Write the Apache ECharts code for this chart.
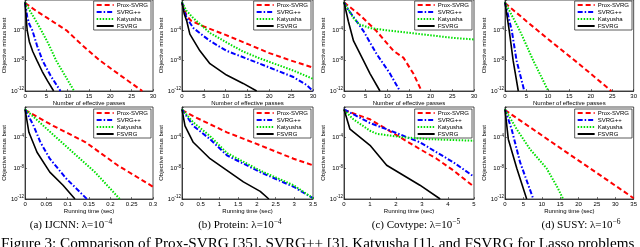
<!DOCTYPE html>
<html><head><meta charset="utf-8">
<script src="https://cdn.jsdelivr.net/npm/echarts@6/dist/echarts.min.js"></script>
<style>html,body{margin:0;padding:0;background:#fff;}#c{width:640px;height:247px;}</style>
</head><body><div id="c"></div>
<script>
// ---- data (x, objective minus best) ----
const seriesNames = ['Prox-SVRG', 'SVRG++', 'Katyusha', 'FSVRG'];
const xNames = ['Number of effective passes','Number of effective passes','Number of effective passes','Number of effective passes',
  'Running time (sec)','Running time (sec)','Running time (sec)','Running time (sec)'];
const xMaxes = [30, 30, 30, 30, 0.3, 3.5, 5, 35];
const xSteps = [5, 5, 5, 5, 0.05, 0.5, 1, 5];
const captionData = ['(a) IJCNN: λ=10{s|−4}', '(b) Protein: λ=10{s|−4}', '(c) Covtype: λ=10{s|−5}', '(d) SUSY: λ=10{s|−6}'];
const figureCaption = 'Figure 3: Comparison of Prox-SVRG [35], SVRG++ [3], Katyusha [1], and FSVRG for Lasso problems';

// IJCNN, passes
const ijcnnPassProx = [[0,4e-1],[2.5,4e-2],[5,5e-3],[9.7,1e-4],[13.5,1e-6],[17.6,1e-8],[22.5,1e-10],[27.5,1e-12]];
const ijcnnPassSvrgpp = [[0,5e-1],[0.5,6.3e-3],[1,6.3e-4],[1.7,1e-4],[2.8,1e-6],[4.1,1e-8],[6,1e-10],[8.3,1e-12]];
const ijcnnPassKat = [[0,5e-1],[1,5e-2],[2.4,2.5e-3],[3.8,1e-4],[5.5,1.6e-6],[7.3,1e-8],[9.4,1e-10],[11.5,1e-12]];
const ijcnnPassFsvrg = [[0,5e-1],[0.2,1e-2],[0.5,1e-4],[1,3.2e-6],[1.8,1.6e-7],[2.8,1e-8],[4,4e-10],[5.3,2e-11],[6.7,1e-12]];
// Protein, passes
const proteinPassProx = [[0,4e-1],[1,1e-2],[2,2e-3],[5,3.2e-4],[10,2.5e-5],[15,1.6e-6],[20,1e-7],[25,1e-8],[30,1.26e-9]];
const proteinPassSvrgpp = [[0,5e-1],[1,5e-3],[2.6,2e-4],[6.4,4e-6],[10.2,2e-7],[17.8,4e-9],[25.5,7e-11],[28.5,6.3e-12],[30,1e-12]];
const proteinPassKat = [[0,5e-1],[1,4e-2],[2.6,4e-3],[6.4,4.5e-5],[10.2,2.5e-6],[14,1.6e-7],[17.8,2e-8],[25.5,5e-10],[30,4e-11]];
const proteinPassFsvrg = [[0,5e-1],[0.5,1.6e-2],[1.1,1.6e-3],[1.8,3.2e-5],[4.1,2e-7],[6.4,4e-9],[10.2,1.26e-10],[14,1e-11],[17.1,1e-12]];
// Covtype, passes
const covPassProx = [[0,5e-1],[3.7,1e-2],[7.5,8e-5],[11.4,2e-7],[13.7,2.5e-8],[16,2e-10],[17.9,1e-12]];
const covPassSvrgpp = [[0,5e-1],[1,5e-2],[2.9,1.6e-3],[4.5,8e-5],[7.5,8e-8],[10.6,2e-10],[12.9,1e-12]];
const covPassKat = [[0,5e-1],[2.2,4e-3],[3.5,6.3e-4],[6,2e-4],[9.9,1e-4],[17.6,3.2e-5],[25.2,1e-5],[30,6.3e-6]];
const covPassFsvrg = [[0,5e-1],[1,1.6e-3],[2.2,4e-6],[4.5,1e-8],[6,2e-10],[8.3,1e-12]];
// SUSY, passes
const susyPassProx = [[0,4e-1],[5,1.6e-3],[9.7,1e-5],[17.4,3.2e-9],[24.8,1e-12]];
const susyPassSvrgpp = [[0,5e-1],[1.6,8e-5],[2.7,1e-8],[4.5,1e-12]];
const susyPassKat = [[0,5e-1],[3.5,8e-5],[6.6,1e-8],[10.1,1e-12]];
const susyPassFsvrg = [[0,5e-1],[1,8e-5],[1.9,1e-8],[3.1,1e-12]];
// IJCNN, time
const ijcnnTimeProx = [[0,4e-1],[0.066,3.5e-3],[0.142,2.5e-5],[0.217,2.5e-8],[0.3,4e-11]];
const ijcnnTimeSvrgpp = [[0,5e-1],[0.02,3.5e-3],[0.036,2.5e-5],[0.058,1.8e-7],[0.096,5e-10],[0.145,1e-12]];
const ijcnnTimeKat = [[0,5e-1],[0.043,3.5e-3],[0.104,3.2e-6],[0.164,3.2e-9],[0.222,1e-12]];
const ijcnnTimeFsvrg = [[0,5e-1],[0.009,5e-4],[0.028,1.26e-6],[0.058,3.2e-9],[0.089,6.3e-11],[0.117,1e-12]];
// Protein, time
const proteinTimeProx = [[0,4e-1],[0.3,6.3e-2],[1.2,5e-4],[2.09,1e-5],[2.98,1.8e-7],[3.5,2.5e-8]];
const proteinTimeSvrgpp = [[0,5e-1],[0.3,3.5e-3],[0.75,6.3e-5],[1.2,5e-7],[2.09,3.2e-9],[2.98,4e-11],[3.5,1.26e-12]];
const proteinTimeKat = [[0,5e-1],[0.3,1e-2],[0.75,1.6e-4],[1.2,1e-6],[2.09,5e-9],[2.98,6.3e-11],[3.5,1.26e-12]];
const proteinTimeFsvrg = [[0,5e-1],[0.08,3.5e-3],[0.3,2.5e-5],[0.75,1.8e-7],[1.2,5.5e-9],[1.64,1.7e-10],[2.09,1e-11],[2.32,1e-12]];
// Covtype, time
const covTimeProx = [[0,4e-1],[1,2.5e-2],[1.64,1.26e-3],[2.92,3.2e-6],[3.56,1.8e-7],[4.2,5.5e-9],[5,4e-11]];
const covTimeSvrgpp = [[0,5e-1],[1,8e-3],[1.64,1.26e-3],[2.92,2.5e-5],[4.2,6.3e-8],[5,8e-10]];
const covTimeKat = [[0,4e-1],[0.36,2.5e-2],[1,8e-4],[1.26,3.2e-4],[2.28,1.1e-4],[3.3,6.3e-5],[5,4e-5]];
const covTimeFsvrg = [[0,5e-1],[0.23,1.26e-3],[1,1e-5],[1.64,2.5e-8],[2.28,1.26e-9],[2.92,6.3e-11],[3.7,1e-12]];
// SUSY, time
const susyTimeProx = [[0,4e-1],[15.8,2.5e-6],[25,2.5e-9],[35,1.26e-12]];
const susyTimeSvrgpp = [[0,5e-1],[1.8,1.26e-3],[4.1,6.3e-8],[7.7,1e-12]];
const susyTimeKat = [[0,5e-1],[3.2,1.26e-3],[6.8,3.2e-6],[11.3,1e-8],[14.4,2.5e-11],[15.8,1e-12]];
const susyTimeFsvrg = [[0,5e-1],[0.9,6.3e-5],[3.2,1e-8],[5.9,1e-12]];

const panelData = [
  [ijcnnPassProx, ijcnnPassSvrgpp, ijcnnPassKat, ijcnnPassFsvrg],
  [proteinPassProx, proteinPassSvrgpp, proteinPassKat, proteinPassFsvrg],
  [covPassProx, covPassSvrgpp, covPassKat, covPassFsvrg],
  [susyPassProx, susyPassSvrgpp, susyPassKat, susyPassFsvrg],
  [ijcnnTimeProx, ijcnnTimeSvrgpp, ijcnnTimeKat, ijcnnTimeFsvrg],
  [proteinTimeProx, proteinTimeSvrgpp, proteinTimeKat, proteinTimeFsvrg],
  [covTimeProx, covTimeSvrgpp, covTimeKat, covTimeFsvrg],
  [susyTimeProx, susyTimeSvrgpp, susyTimeKat, susyTimeFsvrg]
];

// ---- layout & style ----
const SANS = 'Liberation Sans';
const SERIF = 'Liberation Serif';
const colLeft = [21, 182, 344, 505];
const colWidth = [132, 131, 130, 129];
const rowTop = [-2, 107];
const rowHeight = [93, 92];
const lineStyles = [
  {color: '#ff0000', width: 2, type: [5, 3]},
  {color: '#0000ff', width: 2, type: [5, 2, 1.5, 2]},
  {color: '#00e000', width: 2, type: [1.5, 1.5]},
  {color: '#000000', width: 1.6, type: 'solid'}
];

const grids = [], xAxes = [], yAxes = [], series = [], legends = [];
for (let p = 0; p < 8; p++) {
  const r = p < 4 ? 0 : 1, c = p % 4;
  grids.push({left: colLeft[c], top: rowTop[r], width: colWidth[c], height: rowHeight[r],
    show: true, borderColor: '#222', borderWidth: 0.8, backgroundColor: '#fff'});
  xAxes.push({type: 'value', gridIndex: p, min: 0, max: xMaxes[p], interval: xSteps[p],
    name: xNames[p], nameLocation: 'middle', nameGap: 9,
    nameTextStyle: {fontFamily: SANS, fontSize: 6, color: '#000'},
    axisLine: {show: true, onZero: false, lineStyle: {color: '#222', width: 0.8}},
    axisTick: {show: true, inside: true, length: 2, lineStyle: {color: '#222', width: 0.6}},
    axisLabel: {fontFamily: SANS, fontSize: 6, color: '#000', margin: 2},
    splitLine: {show: false}});
  yAxes.push({type: 'log', logBase: 10, gridIndex: p, min: 1e-12, max: 1, interval: 4,
    name: 'Objective minus best', nameLocation: 'middle', nameGap: 13,
    nameTextStyle: {fontFamily: SANS, fontSize: 6, color: '#000'},
    axisLine: {show: true, lineStyle: {color: '#222', width: 0.8}},
    axisTick: {show: true, inside: true, length: 2, lineStyle: {color: '#222', width: 0.6}},
    axisLabel: {fontFamily: SANS, fontSize: 6, color: '#000', margin: 1,
      formatter: function (v) { const e = Math.round(Math.log10(v)); return e === 0 ? '' : '10{s|' + e + '}'; },
      rich: {s: {fontFamily: SANS, fontSize: 4.5, padding: [0, 0, 4, 0], color: '#000'}}},
    splitLine: {show: false}, minorTick: {show: false}});
  for (let s = 0; s < 4; s++) {
    series.push({type: 'line', name: seriesNames[s], xAxisIndex: p, yAxisIndex: p,
      data: panelData[p][s], symbol: 'none', showSymbol: false, smooth: false,
      lineStyle: lineStyles[s], itemStyle: {color: lineStyles[s].color}, z: 2 + s, silent: true, animation: false});
  }
  legends.push({data: seriesNames, orient: 'vertical',
    right: 640 - (colLeft[c] + colWidth[c]) + 2, top: (r === 0 ? 1 : rowTop[r] + 2),
    itemWidth: 17, itemHeight: 6, itemGap: 1, padding: [1, 3, 1, 2],
    backgroundColor: '#fff', borderColor: '#333', borderWidth: 0.8, borderRadius: 0,
    itemStyle: {opacity: 0},
    textStyle: {fontFamily: SANS, fontSize: 6, color: '#000', padding: [0, 0, 0, -2]},
    selectedMode: false, inactiveColor: '#000'});
}

const graphics = [];
const capCenters = [71, 240, 416, 581];
for (let i = 0; i < 4; i++) {
  graphics.push({type: 'text', x: capCenters[i], y: 225, silent: true,
    style: {text: captionData[i], fill: '#000', font: '11px "' + SERIF + '"', textAlign: 'center', textVerticalAlign: 'middle',
      rich: {s: {fontFamily: SERIF, fontSize: 7.5, padding: [0, 0, 6, 0], fill: '#000'}}}});
}
graphics.push({type: 'text', x: 1, y: 244, silent: true,
  style: {text: figureCaption, fill: '#000', font: '15.2px "' + SERIF + '"', textAlign: 'left', textVerticalAlign: 'middle'}});

const chart = echarts.init(document.getElementById('c'), null, {renderer: 'canvas'});
chart.setOption({
  animation: false,
  grid: grids, xAxis: xAxes, yAxis: yAxes, series: series, legend: legends, graphic: graphics
});
</script></body></html>
